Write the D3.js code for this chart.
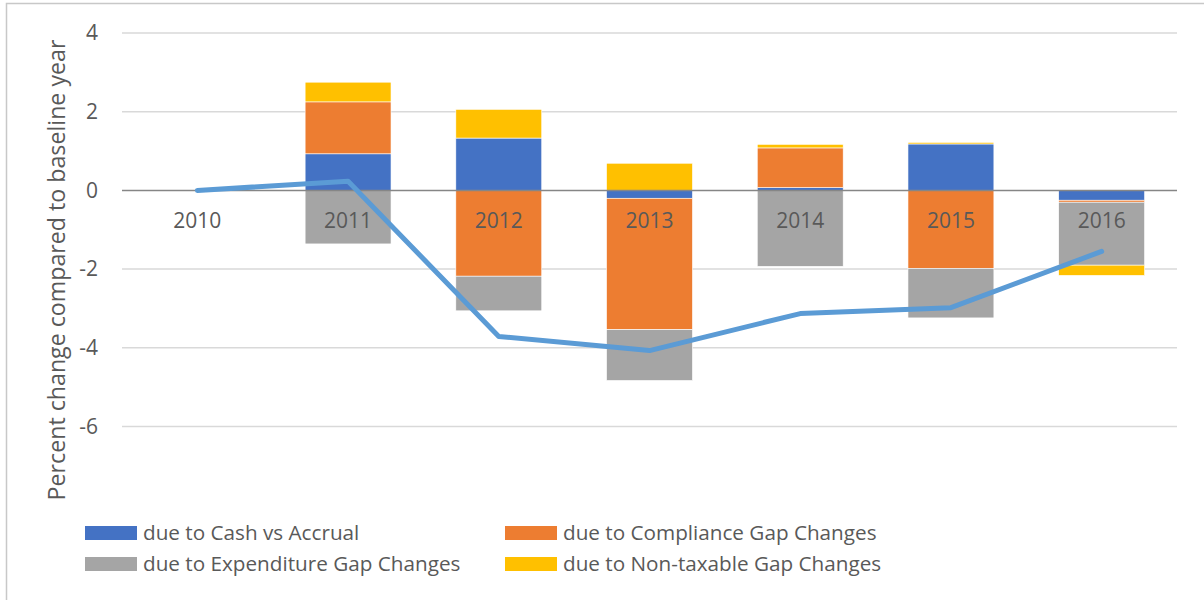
<!DOCTYPE html>
<html><head><meta charset="utf-8">
<script src="https://cdn.jsdelivr.net/npm/d3@7"></script>
<style>body{margin:0;background:#fff}svg{display:block}text{font-family:"Open Sans",sans-serif;fill:#595959}</style>
</head><body>
<svg id="c" width="1204" height="600"></svg>
<script>
const years = ["2010","2011","2012","2013","2014","2015","2016"];
const seriesNames = ["due to Cash vs Accrual","due to Compliance Gap Changes","due to Expenditure Gap Changes","due to Non-taxable Gap Changes"];
const seriesColors = ["#4472C4","#ED7D31","#A5A5A5","#FFC000"];
const cashVsAccrual   = [0, 0.93, 1.33, -0.20, 0.07, 1.18, -0.25];
const complianceGap   = [0, 1.32, -2.18, -3.34, 1.01, -1.98, -0.05];
const expenditureGap  = [0, -1.36, -0.88, -1.29, -1.93, -1.26, -1.60];
const nonTaxableGap   = [0, 0.50, 0.73, 0.69, 0.09, 0.04, -0.26];
const totalChange     = [0, 0.23, -3.71, -4.07, -3.13, -2.98, -1.55];
const yTicks = [4,2,0,-2,-4,-6];

const series = [cashVsAccrual, complianceGap, expenditureGap, nonTaxableGap];
const svg = d3.select("#c");

// outer frame
svg.append("rect").attr("x",6.5).attr("y",3.5).attr("width",1220).attr("height",620)
  .attr("fill","#fff").attr("stroke","#C8C8C8").attr("stroke-width",1.5);

const x = d3.scaleBand().domain(years).range([122,1177]).paddingInner(0.43).paddingOuter(0.215);
const y = d3.scaleLinear().domain([-6,4]).range([426.5,33]);

// gridlines
svg.append("g").selectAll("line").data(yTicks.filter(d=>d!==0)).join("line")
  .attr("x1",122).attr("x2",1177).attr("y1",d=>y(d)).attr("y2",d=>y(d))
  .attr("stroke","#D9D9D9").attr("stroke-width",1.5);

// y tick labels
svg.append("g").selectAll("text").data(yTicks).join("text")
  .attr("x",98).attr("y",d=>y(d)).attr("dy","0.35em").attr("text-anchor","end")
  .attr("font-size",21).text(d=>d);

// stacked bars (Excel-style: positive and negative stacked separately)
const rects = [];
years.forEach((yr,i)=>{
  let pos=0, neg=0;
  series.forEach((s,k)=>{
    const v=s[i];
    if(v===0) return;
    let y0,y1;
    if(v>0){y0=pos;y1=pos+v;pos=y1;} else {y0=neg;y1=neg+v;neg=y1;}
    rects.push({yr,k,y0,y1});
  });
});
svg.append("g").selectAll("rect").data(rects).join("rect")
  .attr("x",d=>x(d.yr)).attr("width",x.bandwidth())
  .attr("y",d=>y(Math.max(d.y0,d.y1))).attr("height",d=>Math.abs(y(d.y0)-y(d.y1)))
  .attr("fill",d=>seriesColors[d.k]).attr("stroke","#fff").attr("stroke-width",0.6);

// zero line
svg.append("line").attr("x1",122).attr("x2",1177).attr("y1",y(0)).attr("y2",y(0))
  .attr("stroke","#868686").attr("stroke-width",1.5);

// category labels
svg.append("g").selectAll("text").data(years).join("text")
  .attr("x",d=>x(d)+x.bandwidth()/2).attr("y",y(0)+30).attr("dy","0.35em")
  .attr("text-anchor","middle").attr("font-size",21).text(d=>d);

// total line
const line = d3.line().x((d,i)=>x(years[i])+x.bandwidth()/2).y(d=>y(d));
svg.append("path").datum(totalChange).attr("d",line).attr("fill","none")
  .attr("stroke","#5B9BD5").attr("stroke-width",5).attr("stroke-linecap","round").attr("stroke-linejoin","round");

// y-axis title
svg.append("text").attr("transform","translate(57,270) rotate(-90)").attr("dy","0.35em")
  .attr("text-anchor","middle").attr("font-size",23.2).text("Percent change compared to baseline year");

// legend
const legendPos = [[85,533],[505,533],[85,564],[505,564]];
const lg = svg.append("g").selectAll("g").data(seriesNames).join("g")
  .attr("transform",(d,i)=>`translate(${legendPos[i][0]},${legendPos[i][1]})`);
lg.append("rect").attr("x",0).attr("y",-7).attr("width",52).attr("height",14).attr("fill",(d,i)=>seriesColors[i]);
lg.append("text").attr("x",58).attr("y",0).attr("dy","0.35em").attr("font-size",20.7).text(d=>d);
</script>
</body></html>
